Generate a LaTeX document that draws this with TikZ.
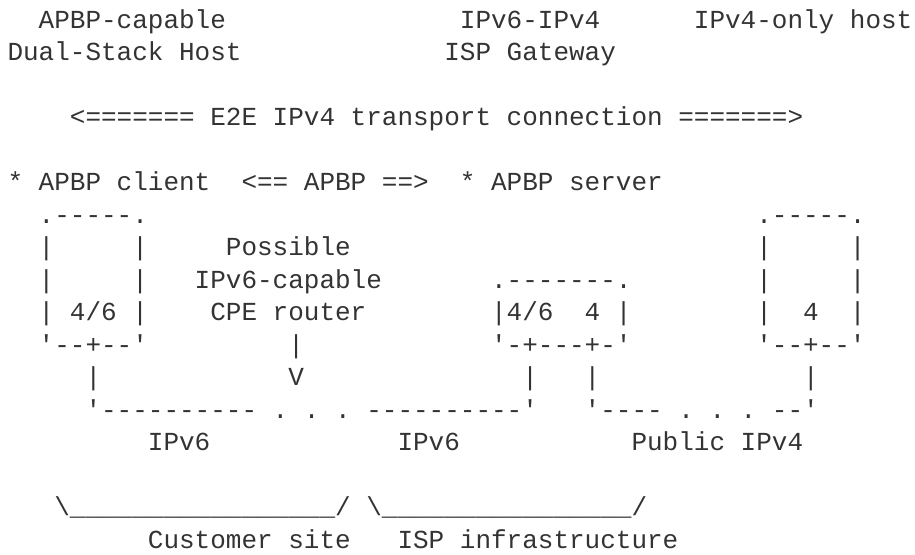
\documentclass[tikz,border=0pt]{standalone}
\usepackage{fontspec}
\setmonofont{Liberation Mono}
\definecolor{ink}{HTML}{333333}
% one character cell: 15.6pt wide, 32.5pt line pitch
\newcommand\cellfont{\ttfamily\fontsize{26}{32.5}\selectfont}
\newcommand\txt[4]{\node[glyphs] (#1) at ({7.5+15.6*#2},{-28-32.5*#3}) {#4};}
\tikzset{glyphs/.style={anchor=base west, inner sep=0pt, outer sep=0pt, font=\cellfont, text=ink}}
\begin{document}
\begin{tikzpicture}[x=1pt,y=1pt]
\useasboundingbox (0,0) rectangle (915,-554);
% headings
\txt{hostA}{2}{0}{APBP-capable}
\txt{gwA}{29}{0}{IPv6-IPv4}
\txt{v4host}{44}{0}{IPv4-only host}
\txt{hostB}{0}{1}{Dual-Stack Host}
\txt{gwB}{28}{1}{ISP Gateway}
\txt{e2e}{4}{3}{<======= E2E IPv4 transport connection =======>}
\txt{client}{0}{5}{* APBP client}
\txt{apbp}{15}{5}{<== APBP ==>}
\txt{server}{29}{5}{* APBP server}
% dual-stack host box
\txt{hTop}{2}{6}{.-----.}
\txt{hL1}{2}{7}{|}
\txt{hR1}{8}{7}{|}
\txt{hL2}{2}{8}{|}
\txt{hR2}{8}{8}{|}
\txt{hMid}{2}{9}{| 4/6 |}
\txt{hBot}{2}{10}{'--+--'}
% CPE router
\txt{cpeA}{14}{7}{Possible}
\txt{cpeB}{12}{8}{IPv6-capable}
\txt{cpeC}{13}{9}{CPE router}
\txt{cpeBar}{18}{10}{|}
\txt{cpeV}{18}{11}{V}
% gateway box
\txt{gTop}{31}{8}{.-------.}
\txt{gMid}{31}{9}{|4/6\ \ 4 |}
\txt{gBot}{31}{10}{'-+---+-'}
% IPv4-only host box
\txt{vTop}{48}{6}{.-----.}
\txt{vL1}{48}{7}{|}
\txt{vR1}{54}{7}{|}
\txt{vL2}{48}{8}{|}
\txt{vR2}{54}{8}{|}
\txt{vMid}{48}{9}{|\ \ 4\ \ |}
\txt{vBot}{48}{10}{'--+--'}
% links
\txt{l1}{5}{11}{|}
\txt{l2}{33}{11}{|}
\txt{l3}{37}{11}{|}
\txt{l4}{51}{11}{|}
\txt{w1}{5}{12}{'----------}
\txt{w2}{17}{12}{. . .}
\txt{w3}{23}{12}{----------'}
\txt{w4}{37}{12}{'----}
\txt{w5}{43}{12}{. . .}
\txt{w6}{49}{12}{--'}
% network labels
\txt{n1}{9}{13}{IPv6}
\txt{n2}{25}{13}{IPv6}
\txt{n3}{40}{13}{Public IPv4}
% braces and domains
\txt{b1}{3}{15}{\textbackslash\_\_\_\_\_\_\_\_\_\_\_\_\_\_\_\_\_/}
\txt{b2}{23}{15}{\textbackslash\_\_\_\_\_\_\_\_\_\_\_\_\_\_\_\_/}
\txt{d1}{9}{16}{Customer site}
\txt{d2}{25}{16}{ISP infrastructure}
\end{tikzpicture}
\end{document}
